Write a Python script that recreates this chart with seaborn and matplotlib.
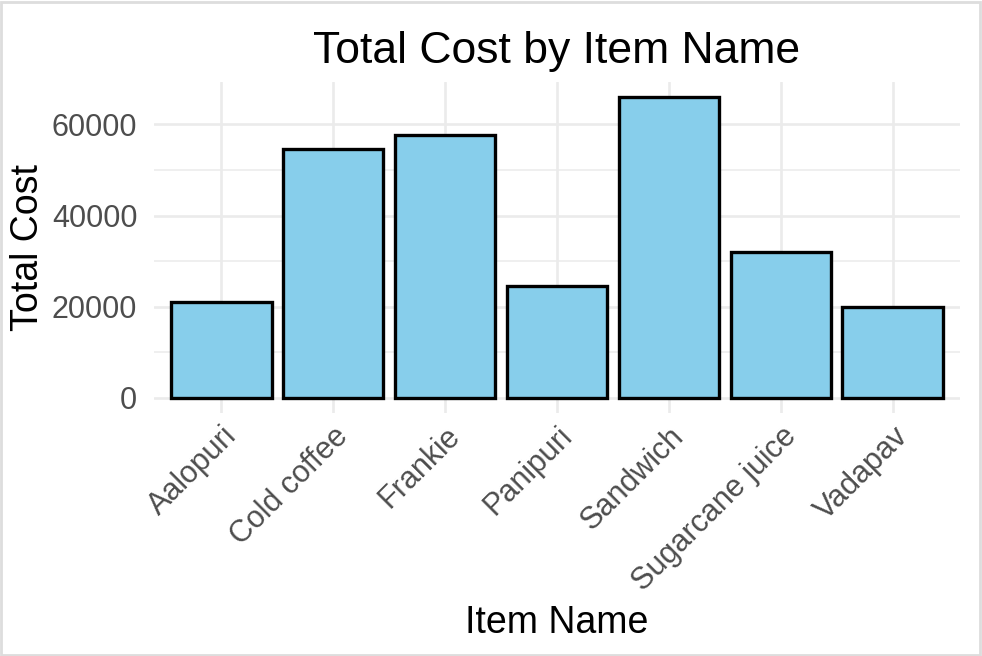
import matplotlib
matplotlib.use("Agg")
import matplotlib.pyplot as plt
import seaborn as sns
import pandas as pd
from matplotlib.patches import Rectangle

# data
items = ["Aalopuri", "Cold coffee", "Frankie", "Panipuri", "Sandwich", "Sugarcane juice", "Vadapav"]
total_cost = [21000, 54500, 57600, 24500, 66000, 32000, 20000]
y_ticks = [0, 20000, 40000, 60000]
y_minor = [10000, 30000, 50000]

df = pd.DataFrame({"item_name": items, "total_cost": total_cost})

sns.set_style("white")
plt.rcParams["font.family"] = ["Liberation Sans", "DejaVu Sans"]

fig = plt.figure(figsize=(9.82, 6.56), dpi=100)
ax = fig.add_axes([154 / 982, 1 - 413 / 656, (960 - 154) / 982, (413 - 82) / 656])

grid = "#EBEBEB"
for v in y_minor:
    ax.axhline(v, color=grid, lw=1.1, zorder=0)
for v in y_ticks:
    ax.axhline(v, color=grid, lw=1.9, zorder=0)
for i in range(len(items)):
    ax.axvline(i, color=grid, lw=1.9, zorder=0)

sns.barplot(data=df, x="item_name", y="total_cost", color="#87CEEB", saturation=1,
            edgecolor="black", linewidth=2.4, width=0.9, ax=ax, zorder=2)

ax.set_xlim(-0.6, len(items) - 0.4)
ax.set_ylim(-3300, 69300)
ax.set_yticks(y_ticks)
ax.set_yticklabels([str(v) for v in y_ticks])
for s in ax.spines.values():
    s.set_visible(False)
ax.tick_params(axis="both", length=0, labelsize=22, labelcolor="#4D4D4D")
ax.tick_params(axis="y", pad=12)
ax.tick_params(axis="x", pad=6)
plt.setp(ax.get_xticklabels(), rotation=45, ha="right", rotation_mode="anchor")

ax.set_xlabel("Item Name", fontsize=27, color="black", labelpad=6)
ax.set_ylabel("Total Cost", fontsize=27, color="black", labelpad=4)
ax.set_title("Total Cost by Item Name", fontsize=32, color="black", pad=14)

fig.patches.append(Rectangle((0.001, 0.001), 0.997, 0.996, transform=fig.transFigure,
                             fill=False, edgecolor="#DDDDDD", lw=2))

fig.savefig("out.png", dpi=100)
